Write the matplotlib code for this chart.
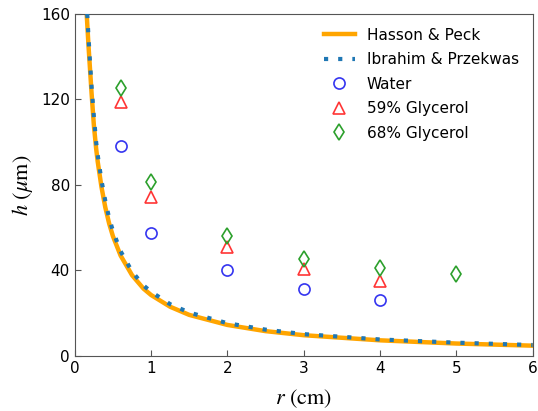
import matplotlib
matplotlib.use("Agg")
import matplotlib.pyplot as plt

# Theory curves
r_hp = [0.156, 0.18, 0.2, 0.22, 0.25, 0.28, 0.3, 0.35, 0.4, 0.45, 0.5, 0.6, 0.75, 0.9, 1.0, 1.25, 1.5, 2.0, 2.5, 3.0, 4.0, 5.0, 6.0]
h_hp = [160, 145, 134, 123, 108, 97, 91, 79, 69.5, 62, 56, 47, 37.8, 31.5, 28.5, 23, 19.2, 14.5, 11.6, 9.7, 7.3, 5.8, 4.8]
r_ip = [0.163, 0.18, 0.2, 0.22, 0.25, 0.28, 0.3, 0.35, 0.4, 0.45, 0.5, 0.6, 0.75, 0.9, 1.0, 1.25, 1.5, 2.0, 2.5, 3.0, 4.0, 5.0, 6.0]
h_ip = [160, 149, 137, 126, 112, 100, 94, 82, 72.5, 64.5, 58.5, 49, 39.5, 33, 30, 24.2, 20.3, 15.3, 12.3, 10.2, 7.7, 6.2, 5.1]

# Measurements
r_water = [0.6, 1, 2, 3, 4]
h_water = [98.2, 57.4, 40.2, 31.2, 26.2]
r_g59 = [0.6, 1, 2, 3, 4]
h_g59 = [119, 74.2, 50.8, 40.7, 35.2]
r_g68 = [0.6, 1, 2, 3, 4, 5]
h_g68 = [125.2, 81.3, 56.3, 45.2, 41.3, 38.4]

plt.rcParams['mathtext.fontset'] = 'stix'

fig = plt.figure(figsize=(5.38, 4.11), dpi=100)
ax = fig.add_axes([0.139, 0.134, 0.851, 0.832])

ax.plot(r_hp, h_hp, color='#FFA500', lw=3.2, label='Hasson & Peck', zorder=2)
ax.plot(r_ip, h_ip, color='#1f77b4', lw=3, linestyle=(0, (1, 2.4)), label='Ibrahim & Przekwas', zorder=3)
ax.plot(r_water, h_water, linestyle='none', marker='o', mfc='none', mec='#3535f0', ms=8, mew=1.2, label='Water')
ax.plot(r_g59, h_g59, linestyle='none', marker='^', mfc='none', mec='#ff3535', ms=8, mew=1.2, label='59% Glycerol')
ax.plot(r_g68, h_g68, linestyle='none', marker='d', mfc='none', mec='#2ca02c', ms=8, mew=1.2, label='68% Glycerol')

ax.set_xlim(0, 6)
ax.set_ylim(0, 160)
ax.set_xticks([0, 1, 2, 3, 4, 5, 6])
ax.set_yticks([0, 40, 80, 120, 160])
ax.tick_params(direction='in', labelsize=11, length=4, color='#555555')
for s in ax.spines.values():
    s.set_color('#555555')

ax.set_xlabel(r'$r$ (cm)', fontsize=16, family='STIXGeneral', labelpad=8)
ax.set_ylabel(r'$h$ ($\mu$m)', fontsize=16, family='STIXGeneral')

ax.legend(loc='upper right', frameon=False, fontsize=11, labelspacing=0.62)

fig.savefig('out.png', dpi=100)
